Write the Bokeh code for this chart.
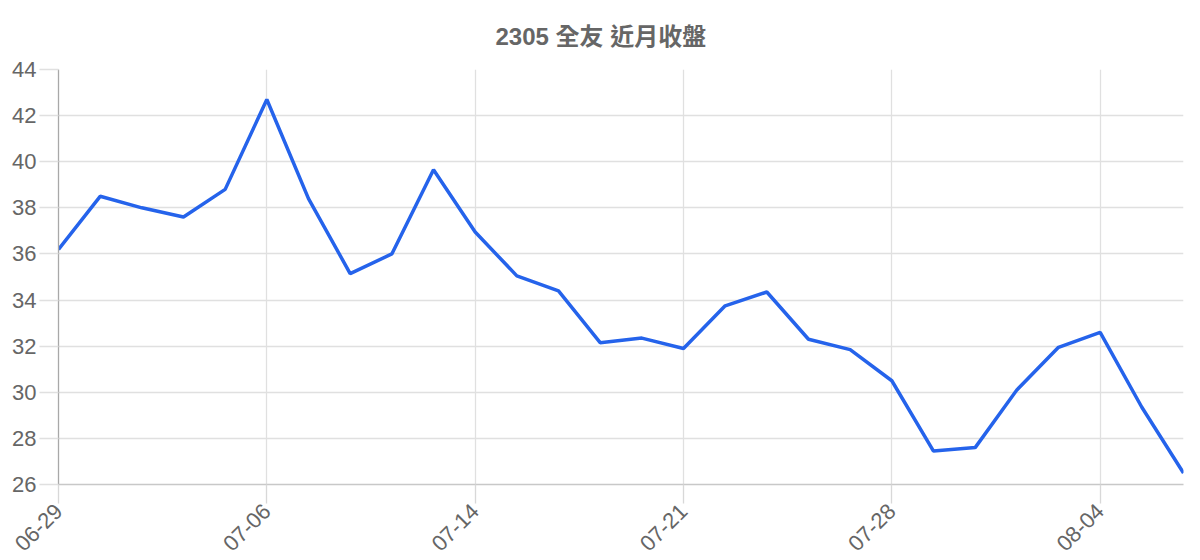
import math
from bokeh.plotting import figure
from bokeh.models import FixedTicker, Range1d
from bokeh.embed import file_html
from bokeh.resources import INLINE

title_text = "2305 全友 近月收盤"
dates = ["06-29", "06-30", "07-01", "07-02", "07-03", "07-06", "07-07", "07-08",
         "07-09", "07-13", "07-14", "07-15", "07-16", "07-17", "07-20", "07-21",
         "07-22", "07-23", "07-24", "07-27", "07-28", "07-29", "07-30", "07-31",
         "08-03", "08-04", "08-05", "08-06"]
closes = [36.2, 38.5, 38.0, 37.6, 38.8, 42.7, 38.4, 35.15, 36.0, 39.65,
          36.95, 35.05, 34.4, 32.15, 32.35, 31.9, 33.75, 34.35, 32.3, 31.85,
          30.5, 27.45, 27.6, 30.1, 31.95, 32.6, 29.35, 26.5]
y_ticks = [26, 28, 30, 32, 34, 36, 38, 40, 42, 44]

idx = list(range(len(dates)))
label_idx = idx[::5]

FONT = "Liberation Sans"
TXT = "#666666"
GRID = "#e0e0e0"

p = figure(frame_width=1125, frame_height=415, output_backend="svg",
           toolbar_location=None, tools="",
           x_range=Range1d(0, len(dates) - 1), y_range=Range1d(26, 44),
           min_border_left=58, min_border_right=9, min_border_top=69,
           min_border_bottom=60)
p.outline_line_color = None

p.title.text = title_text
p.title.align = "left"
p.title.offset = 437
p.title.text_font = "'Liberation Sans', 'Noto Sans CJK TC'"
p.title.text_font_size = "24px"
p.title.text_font_style = "bold"
p.title.text_color = TXT
p.title.standoff = 39

p.line(idx, closes, line_color="#2563eb", line_width=3.5)

xa = p.xaxis[0]
xa.ticker = FixedTicker(ticks=label_idx)
xa.major_label_overrides = {i: dates[i] for i in label_idx}
xa.major_label_orientation = math.pi / 4
xa.major_label_text_font = FONT
xa.major_label_text_font_size = "22px"
xa.major_label_text_color = TXT
xa.major_tick_out = 19
xa.major_tick_in = 0
xa.major_tick_line_color = "#d8d8d8"
xa.major_tick_line_width = 1.3
xa.minor_tick_line_color = None
xa.axis_line_color = "#c8c8c8"
xa.axis_line_width = 1.3
xa.major_label_standoff = 4

ya = p.yaxis[0]
ya.ticker = FixedTicker(ticks=y_ticks)
ya.major_label_text_font = FONT
ya.major_label_text_font_size = "22px"
ya.major_label_text_color = TXT
ya.major_tick_out = 19
ya.major_tick_in = 0
ya.major_tick_line_color = GRID
ya.major_tick_line_width = 1.3
ya.minor_tick_line_color = None
ya.axis_line_color = "#a8a8a8"
ya.axis_line_width = 1.3
ya.major_label_standoff = 3

p.xgrid.ticker = FixedTicker(ticks=label_idx)
p.xgrid.grid_line_color = GRID
p.ygrid.grid_line_color = GRID
p.xgrid.grid_line_width = 1.3
p.ygrid.grid_line_width = 1.3

open("out.html", "w").write(file_html(p, INLINE))
